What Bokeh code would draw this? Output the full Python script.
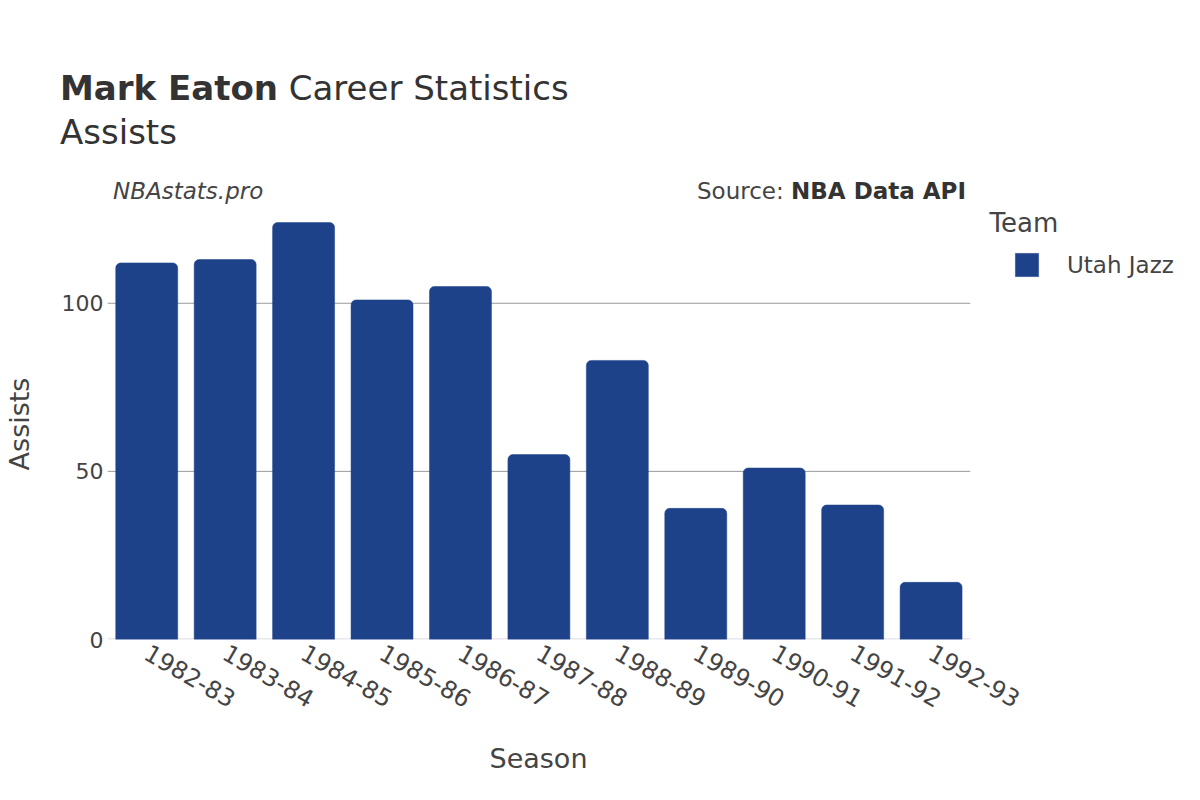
import math
from bokeh.plotting import figure
from bokeh.layouts import column
from bokeh.models import (Range1d, FixedTicker, Label, Title, Div,
                          Legend, LegendItem, ColumnDataSource)
from bokeh.embed import file_html
from bokeh.resources import INLINE

seasons = ["1982-83", "1983-84", "1984-85", "1985-86", "1986-87", "1987-88",
           "1988-89", "1989-90", "1990-91", "1991-92", "1992-93"]
assists = [112, 113, 124, 101, 105, 55, 83, 39, 51, 40, 17]
team = "Utah Jazz"
y_ticks = [0, 50, 100]

FONT = "DejaVu Sans"
BAR = "#1d428a"
TXT = "#444444"
DARK = "#333333"

# layout constants (pixels inside the page body)
W, H = 1184, 784
HEAD = 198                  # height of the header block
FL, FR, FB = 100, 962, 630  # plot area left / right edge of bar band / bottom
FRAME_RIGHT = W - 8         # measured right edge of the drawing frame
PX_PER_UNIT = 3.37
n = len(seasons)
band = (FR - FL) / n
x_end = (n - 0.5) + (FRAME_RIGHT - FR) / band
y_top = (FB - HEAD) / PX_PER_UNIT

header = Div(width=W, height=HEAD, text=(
    f'<div style="position:relative;width:{W}px;height:{HEAD}px;font-family:\'{FONT}\';color:{DARK};">'
    f'<div style="position:absolute;left:55px;top:61px;font-size:34px;line-height:44px;white-space:nowrap;">'
    f'<b>Mark Eaton</b> Career Statistics<br>Assists</div>'
    f'<div style="position:absolute;left:108px;top:174px;font-size:23px;line-height:24px;'
    f'font-style:italic;color:{TXT};white-space:nowrap;">NBAstats.pro</div>'
    f'<div style="position:absolute;right:{W - 961}px;top:174px;font-size:23px;line-height:24px;'
    f'color:{TXT};white-space:nowrap;">Source: <b style="color:{DARK};">NBA Data API</b></div>'
    f'</div>'))

p = figure(width=W, height=H - HEAD, x_range=Range1d(-0.5, x_end),
           y_range=Range1d(0, y_top), output_backend="svg", toolbar_location=None,
           title_location=None,
           min_border_left=FL, min_border_right=0, min_border_top=0,
           min_border_bottom=H - FB)
p.outline_line_color = None
p.background_fill_color = "white"
p.border_fill_color = "white"
p.xgrid.grid_line_color = None
p.ygrid.grid_line_color = None

xs = list(range(n))
grid_y = [t for t in y_ticks if t != 0]
p.segment(x0=[-0.5] * len(grid_y), x1=[n - 0.5] * len(grid_y), y0=grid_y, y1=grid_y,
          line_color="#9a9a9a", line_width=1)
p.segment(x0=[-0.5], x1=[n - 0.5], y0=[0], y1=[0], line_color="#e8e8ee", line_width=3)

src = ColumnDataSource(dict(x=xs, top=assists))
r = p.vbar(x="x", top="top", width=0.79, source=src, fill_color=BAR,
           line_color=BAR, line_width=0.5, border_radius=(5, 5, 0, 0))

for ax in (p.xaxis[0], p.yaxis[0]):
    ax.axis_line_color = None
    ax.major_tick_line_color = None
    ax.minor_tick_line_color = None
    ax.major_tick_out = 0
    ax.major_tick_in = 0
    ax.minor_tick_out = 0
    ax.minor_tick_in = 0
    ax.major_label_text_font = FONT
    ax.major_label_text_color = TXT
    ax.major_label_text_font_size = "22px"
    ax.axis_label_text_font = FONT
    ax.axis_label_text_color = TXT
    ax.axis_label_text_font_size = "27px"
    ax.axis_label_text_font_style = "normal"

p.yaxis.ticker = FixedTicker(ticks=y_ticks)
p.yaxis.axis_label = "Assists"
p.yaxis.major_label_standoff = 4
p.yaxis.axis_label_standoff = 24

p.xaxis.ticker = FixedTicker(ticks=xs)
p.xaxis.major_label_overrides = {i: s for i, s in enumerate(seasons)}
p.xaxis.major_label_orientation = -math.pi / 6
p.xaxis.major_label_text_font_size = "24px"
p.xaxis.major_label_standoff = 11

season_title = Title(text="Season", align="left", offset=382, standoff=42,
                     text_font=FONT, text_font_size="27px", text_font_style="normal",
                     text_color=TXT)
p.add_layout(season_title, "below")

p.add_layout(Label(x=882, y=416.5, x_units="screen", y_units="screen",
                   text="Team", text_font=FONT, text_font_size="26px",
                   text_color=TXT, text_baseline="alphabetic"))

legend = Legend(items=[LegendItem(label=team, renderers=[r])],
                location=(905, 360),
                label_text_font=FONT, label_text_font_size="23px",
                label_text_color=TXT, glyph_width=29, glyph_height=29,
                label_height=29, label_standoff=26, padding=0, margin=0, spacing=0,
                border_line_color=None, background_fill_alpha=0)
p.add_layout(legend)

open("out.html", "w").write(file_html(column(header, p, spacing=0), INLINE))
